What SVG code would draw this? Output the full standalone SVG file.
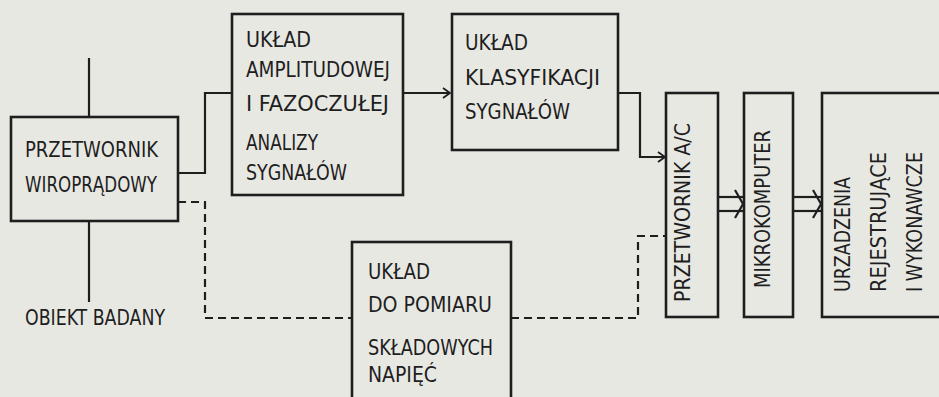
<svg xmlns="http://www.w3.org/2000/svg" width="939" height="397" viewBox="0 0 939 397">
<style>
.bg{fill:#e8e8e3}
.box{fill:none;stroke:#1e1e1e;stroke-width:2.6}
.ln{fill:none;stroke:#1e1e1e;stroke-width:2.2}
.ds{fill:none;stroke:#1e1e1e;stroke-width:2.2;stroke-dasharray:8 5}
text{font-family:"DejaVu Sans Condensed","DejaVu Sans","Liberation Sans",sans-serif;font-size:20.5px;fill:#1e1e1e}
</style>
<defs>
<marker id="arr" markerWidth="10" markerHeight="12" refX="8" refY="6" orient="auto" markerUnits="userSpaceOnUse">
<path d="M1,1 L8,6 L1,11" fill="none" stroke="#1e1e1e" stroke-width="1.8"/>
</marker>
</defs>
<rect class="bg" x="0" y="0" width="939" height="397"/>

<g id="connectors">
<line class="ln" x1="89" y1="58" x2="89" y2="117"/>
<line class="ln" x1="89" y1="221" x2="89" y2="302"/>
<polyline class="ln" points="178,173 205,173 205,93 232,93"/>
<line class="ln" x1="403" y1="93" x2="450" y2="93" marker-end="url(#arr)"/>
<polyline class="ln" points="618,93 640,93 640,157 665,157" marker-end="url(#arr)"/>
<polyline class="ds" points="178,202 205,202 205,318 352,318"/>
<polyline class="ds" points="511,318 638,318 638,236 666,236"/>
<g id="bus1">
<line class="ln" x1="718" y1="197" x2="744" y2="197"/>
<line class="ln" x1="718" y1="211" x2="744" y2="211"/>
<path class="ln" d="M735,190 L743,204 L735,218"/>
</g>
<g id="bus2">
<line class="ln" x1="793" y1="197" x2="822" y2="197"/>
<line class="ln" x1="793" y1="211" x2="822" y2="211"/>
<path class="ln" d="M813,190 L821,204 L813,218"/>
</g>
</g>

<g id="przetwornik-wiropradowy">
<rect class="box" x="11" y="117" width="167" height="104"/>
<text x="25" y="157" textLength="133" lengthAdjust="spacingAndGlyphs">PRZETWORNIK</text>
<text x="25" y="192" textLength="132" lengthAdjust="spacingAndGlyphs">WIROPRĄDOWY</text>
</g>

<g id="obiekt-badany">
<text x="25" y="325" textLength="140" lengthAdjust="spacingAndGlyphs">OBIEKT BADANY</text>
</g>

<g id="uklad-amplitudowej">
<rect class="box" x="232" y="14" width="171" height="181"/>
<text x="246" y="47" textLength="65" lengthAdjust="spacingAndGlyphs">UKŁAD</text>
<text x="246" y="77" textLength="144" lengthAdjust="spacingAndGlyphs">AMPLITUDOWEJ</text>
<text x="246" y="111" textLength="143" lengthAdjust="spacingAndGlyphs">I  FAZOCZUŁEJ</text>
<text x="246" y="150" textLength="72" lengthAdjust="spacingAndGlyphs">ANALIZY</text>
<text x="246" y="180" textLength="101" lengthAdjust="spacingAndGlyphs">SYGNAŁÓW</text>
</g>

<g id="uklad-klasyfikacji">
<rect class="box" x="452" y="14" width="166" height="136"/>
<text x="465" y="50" textLength="63" lengthAdjust="spacingAndGlyphs">UKŁAD</text>
<text x="465" y="85" textLength="135" lengthAdjust="spacingAndGlyphs">KLASYFIKACJI</text>
<text x="465" y="119" textLength="105" lengthAdjust="spacingAndGlyphs">SYGNAŁÓW</text>
</g>

<g id="uklad-pomiaru">
<rect class="box" x="352" y="242" width="159" height="180"/>
<text x="368" y="279" textLength="62" lengthAdjust="spacingAndGlyphs">UKŁAD</text>
<text x="368" y="312" textLength="124" lengthAdjust="spacingAndGlyphs">DO  POMIARU</text>
<text x="368" y="355" textLength="125" lengthAdjust="spacingAndGlyphs">SKŁADOWYCH</text>
<text x="368" y="382" textLength="69" lengthAdjust="spacingAndGlyphs">NAPIĘĆ</text>
</g>

<g id="przetwornik-ac">
<rect class="box" x="666" y="93" width="52" height="224"/>
<text transform="translate(690,302) rotate(-90)" textLength="179" lengthAdjust="spacingAndGlyphs">PRZETWORNIK  A/C</text>
</g>

<g id="mikrokomputer">
<rect class="box" x="744" y="93" width="49" height="224"/>
<text transform="translate(770,288) rotate(-90)" textLength="158" lengthAdjust="spacingAndGlyphs">MIKROKOMPUTER</text>
</g>

<g id="urzadzenia">
<rect class="box" x="822" y="93" width="140" height="224"/>
<text transform="translate(850,292) rotate(-90)" textLength="115" lengthAdjust="spacingAndGlyphs">URZADZENIA</text>
<text transform="translate(886,292) rotate(-90)" textLength="140" lengthAdjust="spacingAndGlyphs">REJESTRUJĄCE</text>
<text transform="translate(922,292) rotate(-90)" textLength="140" lengthAdjust="spacingAndGlyphs">I  WYKONAWCZE</text>
</g>
</svg>
